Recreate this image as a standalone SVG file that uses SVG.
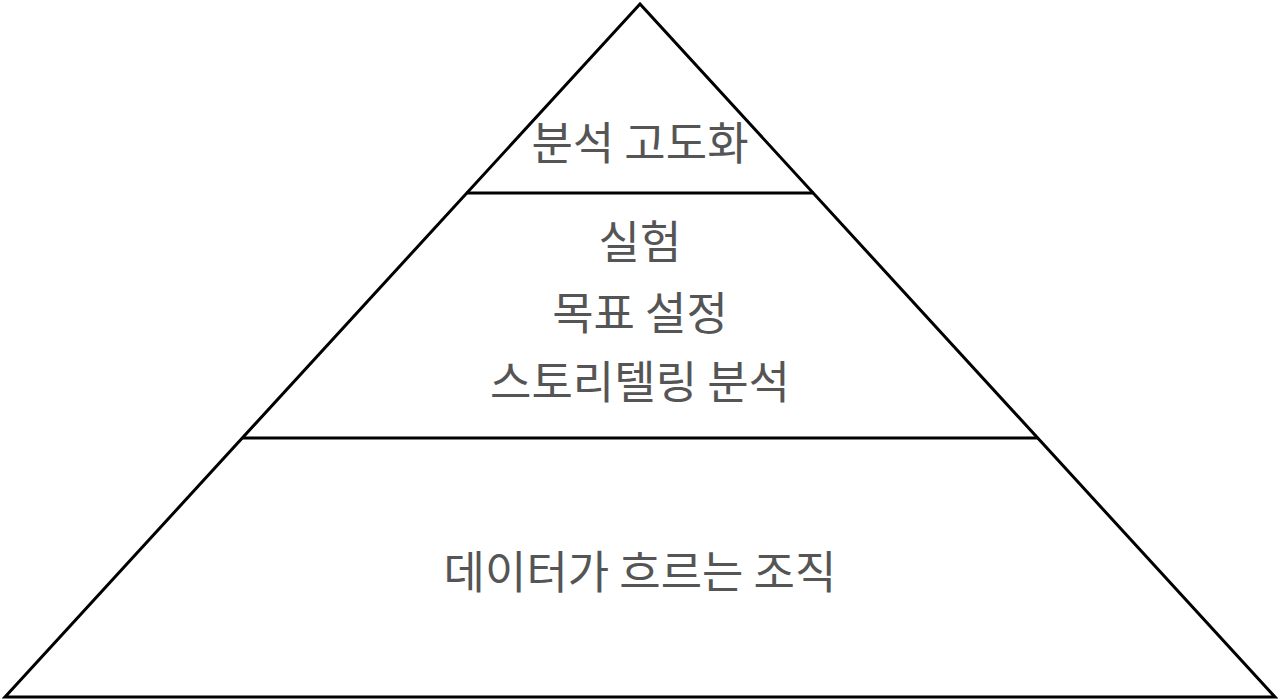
<svg xmlns="http://www.w3.org/2000/svg" width="1280" height="700" viewBox="0 0 1280 700">
<style>
.edge{stroke:#000;stroke-width:3;fill:none;stroke-linejoin:miter}
.lbl{font-family:"Noto Sans CJK KR","Noto Sans",sans-serif;font-size:45px;fill:#555;text-anchor:middle}
</style>
<rect width="1280" height="700" fill="#fff"/>
<g id="connectors">
<polygon class="edge" points="640,4 5,697 1275,697"/>
<line class="edge" x1="466" y1="193" x2="814" y2="193"/>
<line class="edge" x1="242" y1="438" x2="1038" y2="438"/>
</g>
<g id="top"><text class="lbl" x="640" y="160">분석 고도화</text></g>
<g id="middle">
<text class="lbl" x="640" y="259">실험</text>
<text class="lbl" x="640" y="330">목표 설정</text>
<text class="lbl" x="640" y="399">스토리텔링 분석</text>
</g>
<g id="bottom"><text class="lbl" x="640" y="589">데이터가 흐르는 조직</text></g>
</svg>
